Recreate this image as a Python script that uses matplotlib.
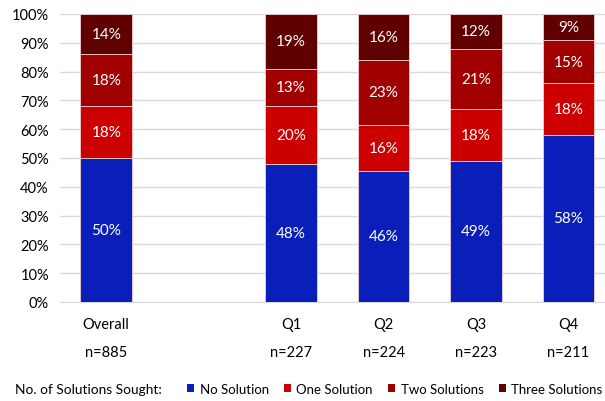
import matplotlib.pyplot as plt
import numpy as np
from matplotlib.patches import Patch

plt.rcParams['font.family'] = ['Lato', 'DejaVu Sans']

# データ
groups = ['Overall', 'Q1', 'Q2', 'Q3', 'Q4']
counts = ['n=885', 'n=227', 'n=224', 'n=223', 'n=211']
positions = [0, 2, 3, 4, 5]
series = ['No Solution', 'One Solution', 'Two Solutions', 'Three Solutions']
no_solution = [50, 48, 46, 49, 58]
one_solution = [18, 20, 16, 18, 18]
two_solutions = [18, 13, 23, 21, 15]
three_solutions = [14, 19, 16, 12, 9]
colors = ['#0A1EBA', '#CC0000', '#A00000', '#600000']

values = np.array([no_solution, one_solution, two_solutions, three_solutions], dtype=float)
shares = values / values.sum(axis=0) * 100  # 100%積み上げ

fig = plt.figure(figsize=(6.05, 4.02), dpi=100)
ax = fig.add_axes([60 / 605, 1 - 303 / 402, 545 / 605, 288 / 402])

bottom = np.zeros(len(groups))
for i in range(len(series)):
    ax.bar(positions, shares[i], bottom=bottom, width=0.56, color=colors[i],
           edgecolor='#F2D0D0', linewidth=0.6, zorder=3)
    for x, b, h, v in zip(positions, bottom, shares[i], values[i]):
        ax.text(x, b + h / 2, f'{v:.0f}%', ha='center', va='center',
                color='white', fontsize=11, zorder=4)
    bottom += shares[i]

ax.set_xlim(-0.5, 5.395)
ax.set_ylim(0, 100)
ax.set_yticks(range(0, 101, 10))
ax.set_yticklabels([f'{t}%' for t in range(0, 101, 10)], fontsize=10.5)
ax.yaxis.grid(True, color='#D9D9D9', linewidth=1, zorder=0)
ax.tick_params(axis='y', length=0, pad=8)
ax.tick_params(axis='x', length=0)
ax.set_xticks([])
for s in ['top', 'right', 'left']:
    ax.spines[s].set_visible(False)
ax.spines['bottom'].set_color('#D9D9D9')

# カテゴリとn
for x, g, n in zip(positions, groups, counts):
    ax.text(x, -7.5, g, ha='center', va='center', fontsize=10.5,
            transform=ax.transData, clip_on=False)
    ax.text(x, -17.3, n, ha='center', va='center', fontsize=10.5,
            transform=ax.transData, clip_on=False)

# 凡例
fig.text(15 / 605, 1 - 390 / 402, 'No. of Solutions Sought:', ha='left', va='center', fontsize=9.9)
handles = [Patch(facecolor=c, label=s) for c, s in zip(colors, series)]
fig.legend(handles=handles, loc='center left', bbox_to_anchor=(187 / 605, 1 - 390 / 402),
           ncol=4, frameon=False, fontsize=9.5, handlelength=0.55, handleheight=0.55,
           handletextpad=0.4, columnspacing=1.15, borderaxespad=0, borderpad=0)

fig.savefig('out.png', dpi=100)
